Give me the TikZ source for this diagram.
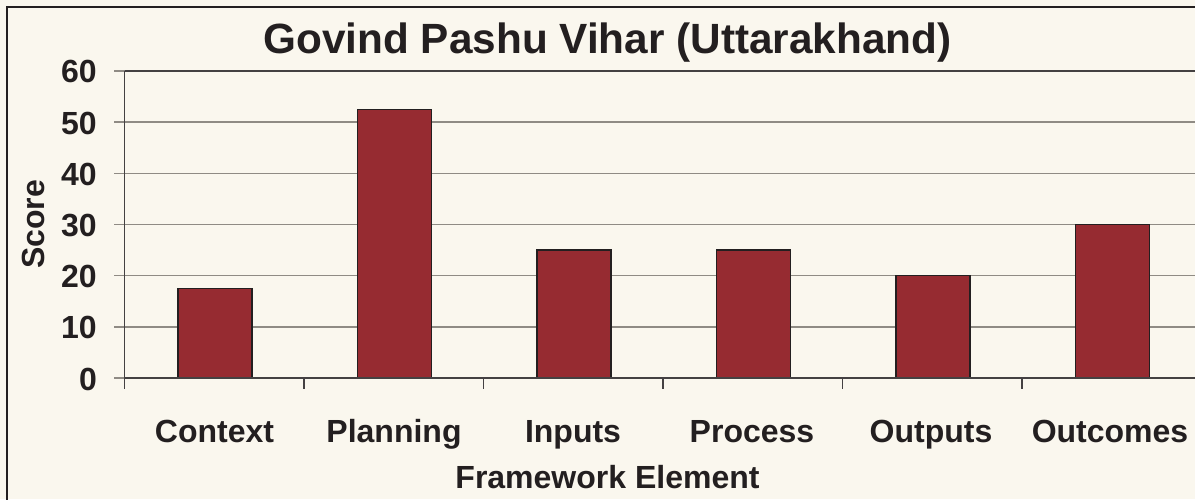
\documentclass[tikz,border=0pt]{standalone}
\usepackage{fontspec}
\setmainfont{Liberation Sans}
\definecolor{bg}{HTML}{FAF7EE}
\definecolor{barfill}{HTML}{962B31}
\definecolor{txt}{HTML}{231F20}
\definecolor{gridc}{HTML}{8F8B84}
\begin{document}
\begin{tikzpicture}[x=1pt,y=-1pt,
  lbl/.style={text=txt,font=\fontsize{32}{36}\selectfont\bfseries,inner sep=0pt},
  ticklbl/.style={lbl,anchor=base east},
  catlbl/.style={lbl,anchor=base},
  barbox/.style={fill=barfill,draw=txt,line width=1.2pt},
  gridline/.style={gridc,line width=1.5pt},
  axisline/.style={txt!85,line width=1.5pt}]
\fill[bg] (0,0) rectangle (1195,499);
\useasboundingbox (0,0) rectangle (1195,499);
\clip (0,0) rectangle (1195,499);
\draw[txt,line width=1.5pt] (7,510) -- (7,7) -- (1210,7);
% gridlines and y ticks
\foreach \v in {10,20,30,40,50}{
  \draw[gridline] (114,378-\v*5.117) -- (1210,378-\v*5.117);
}
\foreach \v in {0,10,...,60}{
  \draw[gridline] (114,378-\v*5.117) -- (124.5,378-\v*5.117);
  \node[ticklbl] (t\v) at (97,390-\v*5.117) {\v};
}
\draw[axisline] (124.5,71) -- (1210,71);
% bars
\foreach \i/\v/\n in {0/17.5/ctx,1/52.5/pln,2/25/inp,3/25/prc,4/20/out,5/30/ocm}{
  \draw[barbox] (124.5+179.5*\i+53.5,378) rectangle (124.5+179.5*\i+127.5,378-\v*5.117);
}
% axes
\draw[axisline] (124.5,71) coordinate (ytop) -- (124.5,389) coordinate (ybot);
\draw[axisline] (124.5,378) -- (1210,378);
\foreach \i in {1,...,5}{
  \draw[axisline,line width=1.2pt] (124.5+179.5*\i,378) -- (124.5+179.5*\i,389);
}
% category labels
\node[catlbl] (cctx) at (214.5,442) {Context};
\node[catlbl] (cpln) at (394,442) {Planning};
\node[catlbl] (cinp) at (573,442) {Inputs};
\node[catlbl] (cprc) at (752,442) {Process};
\node[catlbl] (cout) at (931,442) {Outputs};
\node[catlbl] (cocm) at (1110,442) {Outcomes};
\node[catlbl] (xtitle) at (607.5,488) {Framework Element};
\node[lbl,rotate=90,anchor=base] (ytitle) at (45,224.5) {Score};
\node[lbl,anchor=base,font=\fontsize{42.3}{46}\selectfont\bfseries] (title) at (607.5,53) {Govind Pashu Vihar (Uttarakhand)};
\end{tikzpicture}
\end{document}
